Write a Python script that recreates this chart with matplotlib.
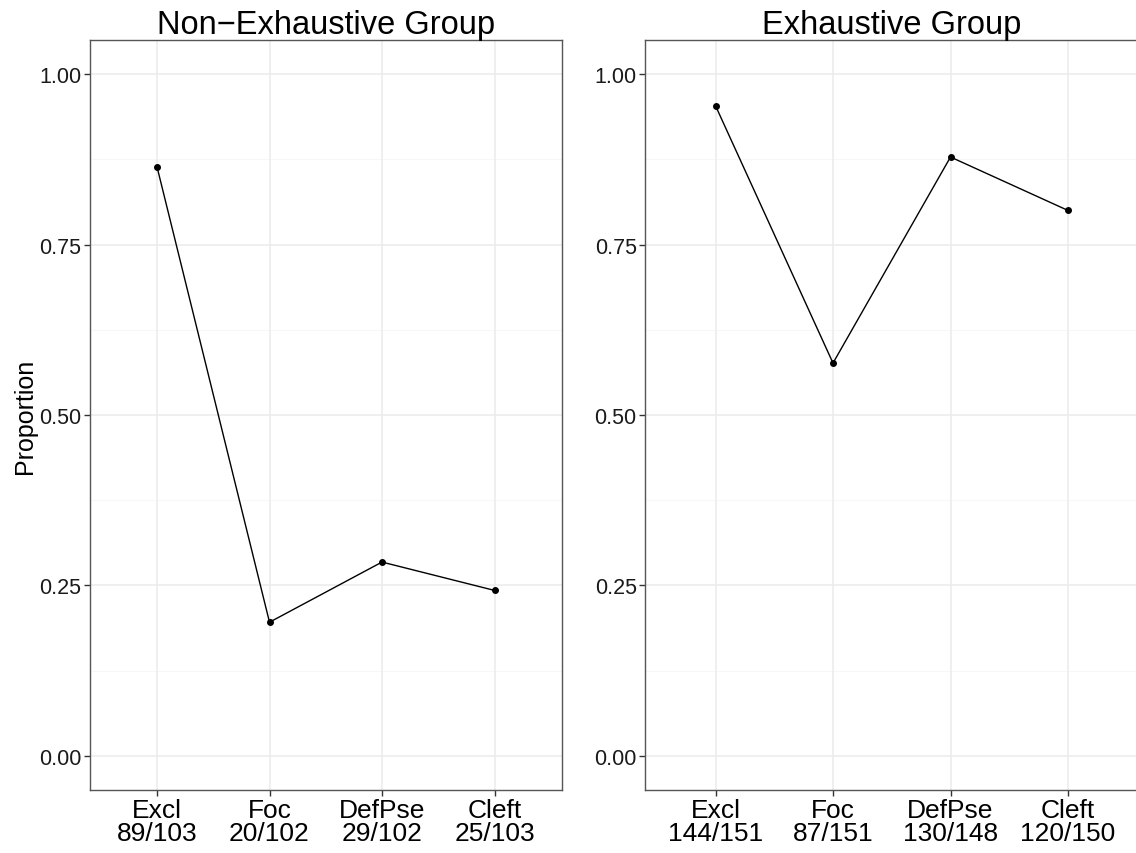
import numpy as np
import matplotlib.pyplot as plt

plt.rcParams['font.family'] = ['Liberation Sans', 'DejaVu Sans']

# --- data ---
CATEGORIES = ["Excl", "Foc", "DefPse", "Cleft"]
NONEXH_HITS = [89, 20, 29, 25]
NONEXH_TOTAL = [103, 102, 102, 103]
EXH_HITS = [144, 87, 130, 120]
EXH_TOTAL = [151, 151, 148, 150]
PANEL_TITLES = ["Non\u2212Exhaustive Group", "Exhaustive Group"]
Y_TICKS = [0.0, 0.25, 0.5, 0.75, 1.0]

fig = plt.figure(figsize=(11.36, 8.54), dpi=100)

# 패널 위치 (figure fraction)
panel_pos = [
    [89.5 / 1136, 63 / 854, (562 - 89.5) / 1136, 750 / 854],
    [645 / 1136, 63 / 854, (1138.5 - 645) / 1136, 750 / 854],
]
groups = [(NONEXH_HITS, NONEXH_TOTAL), (EXH_HITS, EXH_TOTAL)]

for i, ((hits, tot), pos, title) in enumerate(zip(groups, panel_pos, PANEL_TITLES)):
    ax = fig.add_axes(pos)
    prop = np.array(hits) / np.array(tot)
    x = np.arange(1, len(CATEGORIES) + 1)

    # grid (ggplot theme_bw 느낌)
    for yv in Y_TICKS:
        ax.axhline(yv, color="#ebebeb", lw=1.1, zorder=0)
    for yv in [0.125, 0.375, 0.625, 0.875]:
        ax.axhline(yv, color="#f7f7f7", lw=0.8, zorder=0)
    for xv in x:
        ax.axvline(xv, color="#ebebeb", lw=1.1, zorder=0)

    ax.plot(x, prop, color="black", lw=1.0, zorder=2)
    ax.plot(x, prop, "o", color="black", ms=4, zorder=3)

    ax.set_xlim(0.4, len(CATEGORIES) + 0.6)
    ax.set_ylim(-0.05, 1.05)
    ax.set_yticks(Y_TICKS)
    ax.set_yticklabels([f"{v:.2f}" for v in Y_TICKS], fontsize=15.5, color="#1a1a1a")
    ax.set_xticks(x)
    ax.set_xticklabels([f"{c}\n{h}/{t}" for c, h, t in zip(CATEGORIES, hits, tot)],
                       fontsize=19, color="black", linespacing=0.95)
    ax.tick_params(axis="both", length=4, width=1, color="#333333", direction="out", pad=2)

    for sp in ax.spines.values():
        sp.set_color("#555555")
        sp.set_linewidth(1.0)

    ax.set_title(title, fontsize=23.5, pad=2)
    if i == 0:
        ax.set_ylabel("Proportion", fontsize=18, labelpad=1)

fig.savefig("out.png", dpi=100, facecolor="white")
